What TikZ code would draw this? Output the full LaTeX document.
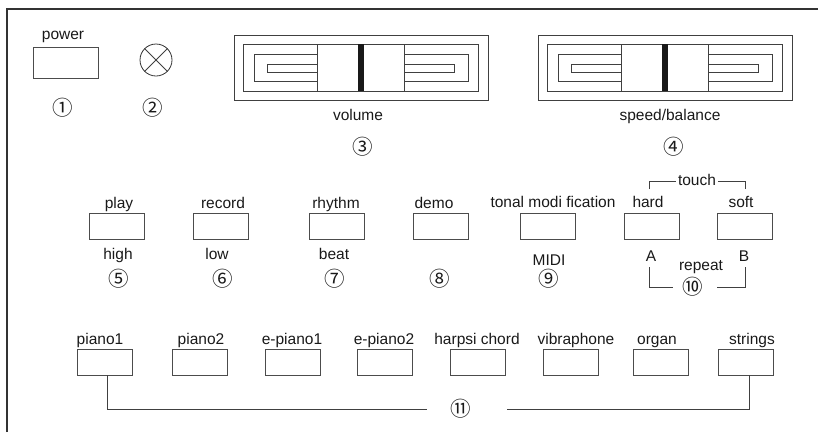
\documentclass[tikz,border=0pt]{standalone}
\usepackage{fontspec}
\setmainfont{Liberation Sans}
\newfontfamily\circfont{Noto Sans CJK SC}
\usetikzlibrary{calc}
\begin{document}
\begin{tikzpicture}[x=1pt,y=-1pt,
  edge/.style={draw=black!75,line width=0.8pt},
  btn/.style={draw=black!70,line width=0.8pt,minimum width=55pt,minimum height=26pt,inner sep=0pt,fill=white},
  lbl/.style={font=\fontsize{15.5}{18}\selectfont,text=black!90,anchor=base,inner sep=0pt},
  num/.style={font=\circfont\fontsize{20.5}{22}\selectfont,text=black!90,inner sep=0pt},
  slider/.pic={
    \draw[edge] (0,0) rectangle (254,65);
    \draw[edge] (9,9) rectangle (244,56);
    \draw[edge] (20,19) rectangle (234,46);
    \draw[edge] (33,29) rectangle (220,37);
    \draw[edge,fill=white] (83,9) rectangle (170,56);
    \fill[black!90] (124,9) rectangle (130,56);
  }]
\useasboundingbox (0,0) rectangle (818,432);
\draw[draw=black!80,line width=1.2pt] (7,432) -- (7,9) -- (818,9);

% power and lamp
\node[btn,minimum width=65pt,minimum height=31pt] (pw) at (65.5,62.5) {};
\node[lbl] (pwl) at (63,39) {power};
\node[num] (n1) at (63,108) {①};
\node[circle,draw=black!80,line width=0.8pt,minimum size=32pt,inner sep=0pt] (lamp) at (156,60) {};
\draw[edge] (lamp.north west) -- (lamp.south east);
\draw[edge] (lamp.north east) -- (lamp.south west);
\node[num] (n2) at (153,108) {②};

% sliders
\pic at (234,35) {slider};
\pic at (538,35) {slider};
\node[lbl] (vol) at (358,120) {volume};
\node[lbl] (spd) at (670,120) {speed/balance};
\node[num] (n3) at (363,147) {③};
\node[num] (n4) at (674,147) {④};

% row 2
\node[btn] (play) at (116.5,226) {};
\node[btn] (rec) at (220.5,226) {};
\node[btn] (rhy) at (336.5,226) {};
\node[btn] (demo) at (440.5,226) {};
\node[btn] (tonal) at (548,226.5) {};
\node[btn] (hard) at (651.5,226.5) {};
\node[btn] (soft) at (744.5,226.5) {};
\node[lbl] at (119,208) {play};
\node[lbl] at (223,208) {record};
\node[lbl] at (336,208) {rhythm};
\node[lbl] at (434,208) {demo};
\node[lbl] at (553,207) {tonal modi fication};
\node[lbl] at (648,207) {hard};
\node[lbl] at (741,207) {soft};
\node[lbl] at (118,259) {high};
\node[lbl] at (217,259) {low};
\node[lbl] at (334,259) {beat};
\node[lbl] at (549,265.5) {MIDI};
\node[lbl] at (651,261) {A};
\node[lbl] at (744,261) {B};
\node[lbl] at (701,270) {repeat};
\node[lbl] (touch) at (697,185) {touch};
\node[num] (n5) at (119,279) {⑤};
\node[num] (n6) at (223,279) {⑥};
\node[num] (n7) at (335,279) {⑦};
\node[num] (n8) at (440,279) {⑧};
\node[num] (n9) at (549,279) {⑨};
\node[num] (n10) at (693,287) {⑩};

\coordinate (t1) at (649,189);
\coordinate (t2) at (676,181);
\coordinate (t3) at (718,181);
\coordinate (t4) at (745,189);
\draw[edge] (t1) |- (t2);
\draw[edge] (t4) |- (t3);
\coordinate (r1) at (649,267);
\coordinate (r2) at (673,287);
\coordinate (r3) at (717,287);
\coordinate (r4) at (745,267);
\draw[edge] (r1) |- (r2);
\draw[edge] (r4) |- (r3);

% row 3
\node[btn] (p1) at (105,362) {};
\node[btn] (p2) at (199.5,362) {};
\node[btn] (ep1) at (292.5,362) {};
\node[btn] (ep2) at (385,362) {};
\node[btn] (hc) at (478,362) {};
\node[btn] (vib) at (570.5,362) {};
\node[btn] (org) at (660.5,362) {};
\node[btn] (str) at (745.5,362) {};
\node[lbl] at (100,344) {piano1};
\node[lbl] at (201,344) {piano2};
\node[lbl] at (292,344) {e-piano1};
\node[lbl] at (384,344) {e-piano2};
\node[lbl] at (477,344) {harpsi chord};
\node[lbl] at (576,344) {vibraphone};
\node[lbl] at (657,344) {organ};
\node[lbl] at (752,344) {strings};
\node[num] (n11) at (461,409) {⑪};
\coordinate (l11) at (427,409);
\coordinate (r11) at (507,409);
\draw[edge] ($(p1.south)+(2,0)$) |- (l11);
\draw[edge] ($(str.south)+(3.5,0)$) |- (r11);
\end{tikzpicture}
\end{document}
